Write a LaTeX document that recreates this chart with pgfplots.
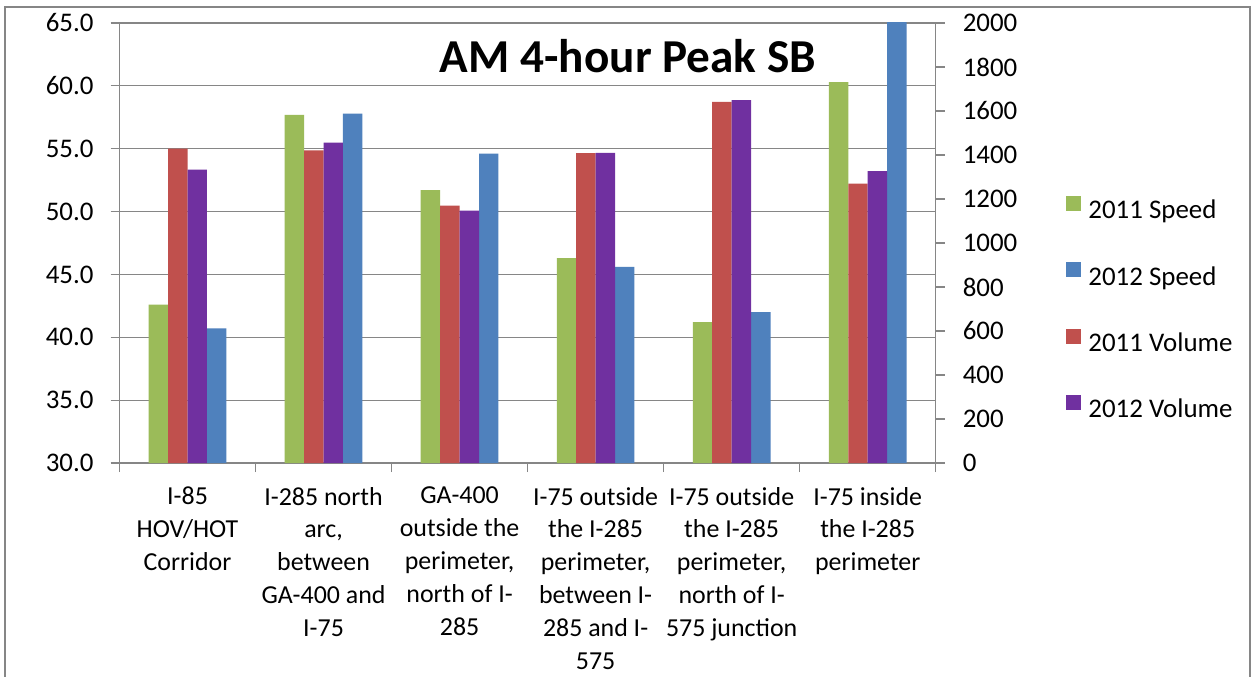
\documentclass[border=0pt]{standalone}
\usepackage{fontspec}
\setmainfont{Carlito}
\usepackage{pgfplots}
\usepackage{pgfplotstable}
\pgfplotsset{compat=1.18}
\definecolor{cgreen}{HTML}{9BBB59}
\definecolor{cblue}{HTML}{4F81BD}
\definecolor{cred}{HTML}{C0504D}
\definecolor{cpurple}{HTML}{7030A0}
\definecolor{axgray}{HTML}{868686}
\pgfplotstableread{
x s11 s12 v11 v12
0 42.6 40.7 1429 1333
1 57.7 57.8 1421 1456
2 51.7 54.6 1170 1147
3 46.3 45.6 1409 1410
4 41.2 42.0 1641 1650
5 60.3 66.0 1270 1327
}\data
\pgfplotsset{
  common/.style={
    at={(59.75bp,106.5bp)}, anchor=south west, scale only axis,
    width=408.1bp, height=220bp,
    xmin=-0.5, xmax=5.5,
    ybar, bar width=0.142857,
    tick align=outside, major tick length=4.5bp,
    tick style={axgray, line width=0.6bp},
    axis line style={draw=axgray, line width=0.6bp, -},
    ticklabel style={font=\fontsize{13.5}{15}\selectfont, text=black},
  }
}
\begin{document}
\begin{tikzpicture}[x=1bp,y=1bp]
\path[use as bounding box, fill=white] (0,0) rectangle (626.5,338);
\draw[axgray, line width=1bp] (2.5,-5) -- (2.5,334.5) -- (625,334.5) -- (625,-5);
\begin{axis}[common,
  ymin=30, ymax=65, ytick={30,35,...,65},
  axis x line*=bottom, axis y line*=left,
  ymajorgrids, grid style={axgray, line width=0.6bp},
  xtick={-0.5,0.5,...,5.5}, xticklabels={},
  yticklabel style={xshift=-5bp, /pgf/number format/.cd, fixed, fixed zerofill, precision=1, assume math mode=true},
]
\addplot[fill=cgreen, draw=none, bar shift=-0.214286] table[x=x, y=s11] {\data};
\addplot[fill=cblue, draw=none, bar shift=0.214286] table[x=x, y=s12] {\data};
\end{axis}
\begin{axis}[common,
  ymin=0, ymax=2000, ytick={0,200,...,2000},
  axis x line*=bottom, axis y line*=right,
  x axis line style={draw=none}, xtick style={draw=none},
  xtick={0,...,5},
  xticklabels={{I-85\\HOV/HOT\\Corridor},
    {I-285 north\\arc,\\between\\GA-400 and\\I-75},
    {GA-400\\outside the\\perimeter,\\north of I-\\285},
    {I-75 outside\\the I-285\\perimeter,\\between I-\\285 and I-\\575},
    {I-75 outside\\the I-285\\perimeter,\\north of I-\\575 junction},
    {I-75 inside\\the I-285\\perimeter}},
  xticklabel style={font=\fontsize{13}{16.5}\selectfont, align=center, anchor=north, yshift=-4bp},
  yticklabel style={xshift=5.5bp, /pgf/number format/.cd, 1000 sep={}, assume math mode=true},
  legend style={at={(1.1593,0.6075)}, anchor=north west, draw=none, fill=none, inner sep=0pt,
    row sep=18.85bp, nodes={inner sep=0pt, text height=9bp, text depth=3bp, font=\fontsize{13.5}{16}\selectfont}},
  legend cell align=left,
  legend image code/.code={\fill[#1] (0bp,0.8bp) rectangle (7.5bp,8.3bp); \path (11.15bp,0bp);},
]
\addlegendimage{fill=cgreen, draw=none}
\addlegendentry{2011 Speed}
\addlegendimage{fill=cblue, draw=none}
\addlegendentry{2012 Speed}
\addplot[fill=cred, draw=none, bar shift=-0.071429] table[x=x, y=v11] {\data};
\addlegendentry{2011 Volume}
\addplot[fill=cpurple, draw=none, bar shift=0.071429] table[x=x, y=v12] {\data};
\addlegendentry{2012 Volume}
\end{axis}
\node[font=\bfseries\fontsize{23.7}{28}\selectfont, anchor=base] at (314,301.8) {AM 4-hour Peak SB};
\end{tikzpicture}
\end{document}
